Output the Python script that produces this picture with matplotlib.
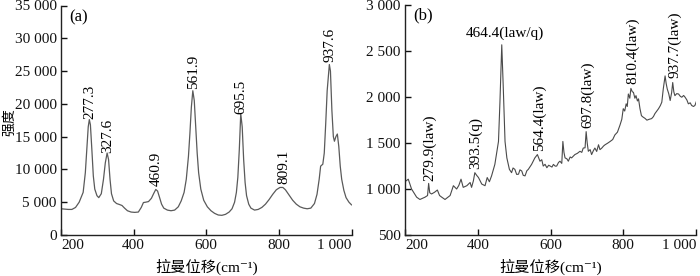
import matplotlib
matplotlib.use("Agg")
import matplotlib.pyplot as plt

plt.rcParams['font.family'] = ['Liberation Serif', 'Noto Sans CJK SC', 'DejaVu Serif']

# ---- panel (a) spectrum ----
a_x = [200, 210, 220, 230, 240, 250, 261, 267, 271, 275,
       278, 281, 285, 289, 293, 299, 304, 311, 317, 322,
       327, 331, 335, 339, 345, 353, 361, 368, 375, 383,
       393, 403, 413, 421, 427, 433, 441, 449, 455, 461,
       466, 471, 477, 483, 493, 503, 513, 523, 531, 539,
       545, 551, 555, 559, 563, 567, 571, 575, 579, 585,
       593, 603, 613, 623, 633, 643, 653, 663, 671, 678,
       683, 687, 691, 695, 699, 703, 707, 711, 717, 723,
       733, 743, 753, 763, 773, 783, 793, 803, 811, 818,
       828, 838, 848, 858, 868, 878, 888, 898, 905, 911,
       915, 921, 925, 929, 933, 939, 942, 946, 950, 953,
       957, 961, 965, 969, 973, 979, 985, 993, 1000]
a_y = [4000, 3950, 3900, 3900, 4200, 5000, 6500, 9500, 13000, 16500,
       17600, 16800, 13000, 9000, 7000, 6000, 5700, 6300, 8500, 11000,
       12500, 11500, 8500, 6300, 5200, 4800, 4650, 4500, 4100, 3700,
       3500, 3450, 3500, 4200, 4950, 5000, 5100, 5600, 6300, 6950,
       6700, 5800, 4700, 4100, 3800, 3700, 3800, 4300, 5200, 6500,
       8500, 12000, 15500, 19500, 22000, 20500, 16500, 12500, 9500, 7000,
       5300, 4300, 3700, 3300, 3050, 3000, 3150, 3500, 4000, 5000,
       6500, 8800, 13000, 18500, 16500, 11500, 8000, 6000, 4700, 4100,
       3800, 3900, 4200, 4700, 5400, 6200, 6900, 7250, 7250, 6900,
       6100, 5300, 4700, 4300, 4100, 4000, 4100, 4800, 6200, 8500,
       10500, 10800, 12500, 17000, 22000, 26000, 25000, 19000, 15000, 14300,
       15000, 15400, 13500, 10500, 8500, 6800, 5700, 5000, 4600]
a_ticks = [0, 5000, 10000, 15000, 20000, 25000, 30000, 35000]
a_ticklabels = ['0', '5 000', '10 000', '15 000', '20 000', '25 000', '30 000', '35 000']
a_ann = ['277.3', '327.6', '460.9', '561.9', '695.5', '809.1', '937.6']
a_ann_x = [279, 328, 462, 565, 695, 813, 941]
a_ann_y = [17730, 12500, 7520, 22300, 18475, 7770, 26440]

# ---- panel (b) spectrum ----
b_x = [203, 209, 218, 232, 241, 255, 262, 265, 268, 273,
       281, 289, 295, 301, 310, 324, 333, 342, 348, 354,
       360, 370, 379, 383, 388, 392, 397, 402, 411, 420,
       426, 432, 438, 447, 457, 461, 466, 470, 475, 480,
       487, 493, 497, 502, 507, 512, 516, 521, 525, 530,
       535, 539, 548, 557, 564, 571, 576, 580, 585, 590,
       595, 599, 604, 608, 613, 617, 622, 626, 631, 634,
       637, 640, 645, 649, 654, 658, 663, 667, 674, 681,
       686, 690, 695, 698, 701, 704, 709, 713, 718, 722,
       727, 732, 736, 741, 746, 750, 757, 764, 771, 777,
       784, 791, 796, 800, 804, 808, 811, 814, 818, 821,
       825, 828, 832, 835, 839, 842, 846, 850, 854, 860,
       865, 871, 878, 883, 887, 892, 897, 902, 906, 910,
       915, 918, 921, 925, 929, 933, 936, 939, 942, 947,
       952, 957, 961, 966, 970, 975, 979, 984, 988, 993,
       997, 1002]
b_y = [1090, 1108, 1001, 912, 887, 912, 930, 1062, 960, 947,
       965, 990, 930, 912, 887, 930, 1037, 1001, 1040, 1108,
       1019, 1037, 1072, 1019, 1090, 1179, 1150, 1126, 1055, 1037,
       1126, 1080, 1144, 1269, 1519, 1947, 2572, 2125, 1519, 1340,
       1215, 1179, 1230, 1215, 1160, 1162, 1210, 1197, 1150, 1144,
       1200, 1215, 1269, 1340, 1376, 1304, 1320, 1251, 1270, 1233,
       1260, 1251, 1240, 1269, 1250, 1251, 1290, 1304, 1280, 1519,
       1400, 1340, 1330, 1304, 1350, 1340, 1360, 1376, 1390, 1412,
       1400, 1447, 1450, 1626, 1500, 1412, 1430, 1376, 1420, 1447,
       1410, 1483, 1430, 1447, 1470, 1483, 1500, 1519, 1540, 1590,
       1620, 1697, 1760, 1876, 1850, 1929, 1900, 2036, 1990, 2097,
       2060, 2054, 1990, 2018, 1960, 1983, 1876, 1800, 1786, 1770,
       1751, 1760, 1768, 1790, 1822, 1850, 1876, 1910, 1947, 2090,
       2233, 2150, 2090, 2040, 1965, 2050, 2161, 2060, 2018, 2040,
       2036, 2010, 2001, 2020, 2001, 1970, 1929, 1940, 1911, 1900,
       1911, 1965]
b_ticks = [500, 1000, 1500, 2000, 2500, 3000]
b_ticklabels = ['500', '1 000', '1 500', '2 000', '2 500', '3 000']
b_ann = ['279.9(law)', '393.5(q)', '564.4(law)', '697.8(law)', '810.4(law)', '937.7(law)']
b_ann_x = [269, 395, 569, 701, 826, 942]
b_ann_y = [1090, 1215, 1411, 1661, 2143, 2215]
b_top_ann = '464.4(law/q)'
b_top_x = 475
b_top_y = 2625

x_ticks = [200, 400, 600, 800, 1000]
x_ticklabels = ['200', '400', '600', '800', '1 000']
x_label = '拉曼位移(cm⁻¹)'
y_label = '强度'

line_color = '#5a5a5a'
fs = 11

fig = plt.figure(figsize=(7.0, 2.76), dpi=100)
axA = fig.add_axes([61 / 700, 41 / 276, 290.5 / 700, 229.5 / 276])
axB = fig.add_axes([405 / 700, 41 / 276, 291 / 700, 229.5 / 276])


def style(ax):
    for s in ['top', 'right']:
        ax.spines[s].set_visible(False)
    for s in ['left', 'bottom']:
        ax.spines[s].set_linewidth(1.0)
        ax.spines[s].set_color('#222222')
    ax.tick_params(direction='in', length=4, width=1, labelsize=fs, pad=3, colors='#111111')
    ax.set_xlim(200, 1000)
    ax.set_xticks(x_ticks)
    labs = ax.set_xticklabels(x_ticklabels)
    labs[0].set_horizontalalignment('left')
    labs[-1].set_horizontalalignment('right')
    ax.set_xlabel(x_label, fontsize=fs, labelpad=5)


axA.plot(a_x, a_y, color=line_color, lw=0.9)
style(axA)
axA.set_ylim(0, 35000)
axA.set_yticks(a_ticks)
axA.set_yticklabels(a_ticklabels)
axA.set_ylabel(y_label, fontsize=10, va='center')
axA.yaxis.set_label_coords(-0.178, 0.49)
for t, x, y in zip(a_ann, a_ann_x, a_ann_y):
    axA.text(x, y, t, rotation=90, ha='center', va='bottom', fontsize=fs)
axA.text(0.03, 0.985, '(a)', transform=axA.transAxes, ha='left', va='top', fontsize=12)

axB.plot(b_x, b_y, color='#4a4a4a', lw=0.8)
style(axB)
axB.set_ylim(500, 3000)
axB.set_yticks(b_ticks)
axB.set_yticklabels(b_ticklabels)
for t, x, y in zip(b_ann, b_ann_x, b_ann_y):
    axB.text(x, y, t, rotation=90, ha='center', va='bottom', fontsize=fs)
axB.text(b_top_x, b_top_y, b_top_ann, ha='center', va='bottom', fontsize=fs)
axB.text(0.03, 0.99, '(b)', transform=axB.transAxes, ha='left', va='top', fontsize=12)

fig.savefig('out.png', dpi=100)
